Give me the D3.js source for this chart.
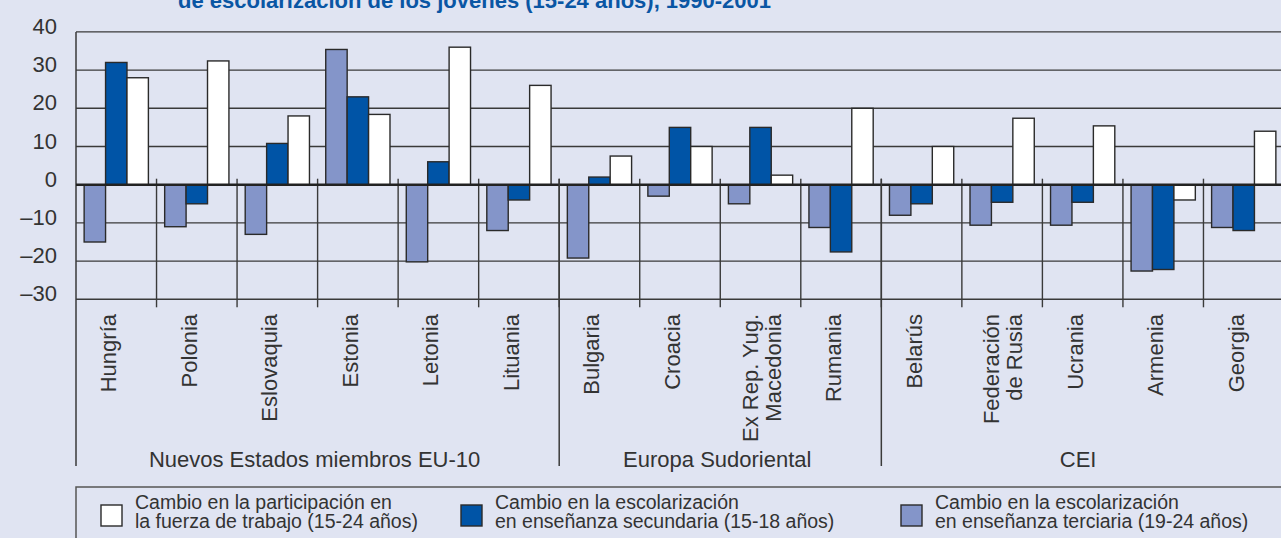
<!DOCTYPE html>
<html>
<head>
<meta charset="utf-8">
<script src="https://cdn.jsdelivr.net/npm/d3@7"></script>
<style>
body { margin: 0; background: #e0e4f2; overflow: hidden; }
svg { display: block; font-family: "Liberation Sans", Arial, sans-serif; }
</style>
</head>
<body>
<div class="chart"></div>
<script>
// data
var countries = ["Hungría", "Polonia", "Eslovaquia", "Estonia", "Letonia", "Lituania",
    "Bulgaria", "Croacia", "Ex Rep. Yug. Macedonia", "Rumania",
    "Belarús", "Federación de Rusia", "Ucrania", "Armenia", "Georgia"];
var countryLabels = [["Hungría"], ["Polonia"], ["Eslovaquia"], ["Estonia"], ["Letonia"], ["Lituania"],
    ["Bulgaria"], ["Croacia"], ["Ex Rep. Yug.", "Macedonia"], ["Rumania"],
    ["Belarús"], ["Federación", "de Rusia"], ["Ucrania"], ["Armenia"], ["Georgia"]];
var tertiary  = [-15, -11, -13, 35.4, -20.2, -12, -19.2, -3, -5, -11.2, -8, -10.6, -10.6, -22.6, -11.2];
var secondary = [32, -5, 10.8, 23, 6, -4, 2, 15, 15, -17.6, -5, -4.6, -4.6, -22.2, -12];
var labour    = [28, 32.4, 18, 18.4, 36, 26, 7.5, 10, 2.5, 20, 10, 17.4, 15.4, -4, 14];
var groupNames = ["Nuevos Estados miembros EU-10", "Europa Sudoriental", "CEI"];
var groupSizes = [6, 4, 5];
var yTicks = [40, 30, 20, 10, 0, -10, -20, -30];
var legendLabels = [
    ["Cambio en la participación en", "la fuerza de trabajo (15-24 años)"],
    ["Cambio en la escolarización", "en enseñanza secundaria (15-18 años)"],
    ["Cambio en la escolarización", "en enseñanza terciaria (19-24 años)"]
];
var title = "de escolarización de los jóvenes (15-24 años), 1990-2001";

var svgWidth = 1281, svgHeight = 538;
var colors = {tertiary: "#8495c9", secondary: "#0054a6", labour: "#ffffff"};
var seriesKeys = ["tertiary", "secondary", "labour"];
var ink = "#333";

var svg = d3.select(".chart").append("svg")
    .attr("width", svgWidth).attr("height", svgHeight);

svg.append("rect").attr("width", svgWidth).attr("height", svgHeight).attr("fill", "#e0e4f2");

//scales
var x0 = d3.scaleBand().domain(countries).range([76, 1284]);
var x1 = d3.scaleBand().domain(seriesKeys).range([0, x0.bandwidth()]).paddingOuter(0.38);
var y = d3.scaleLinear().domain([-30, 40]).range([299.3, 31.9]);

var rows = countries.map(function(c, i) {
    return {country: c, tertiary: tertiary[i], secondary: secondary[i], labour: labour[i]};
});

// title (cut at the top like the source)
svg.append("text").attr("x", 178).attr("y", 7.5)
    .attr("font-size", "22px").attr("font-weight", "bold").attr("fill", "#0a56a4")
    .text(title);

// gridlines
svg.append("g").selectAll("line").data(yTicks).enter().append("line")
    .attr("x1", 76).attr("x2", svgWidth)
    .attr("y1", function(d) { return y(d); }).attr("y2", function(d) { return y(d); })
    .attr("stroke", "#3a3a3a").attr("stroke-width", 1.4);

// y labels
var yAxis = d3.axisLeft(y).tickValues(yTicks).tickSize(0).tickPadding(19)
    .tickFormat(function(d) { return d < 0 ? "\u2013" + Math.abs(d) : d; });
var yg = svg.append("g").attr("transform", "translate(76,0)").call(yAxis);
yg.select(".domain").remove();
yg.selectAll("text").attr("font-size", "22px").attr("font-family", "Liberation Sans, Arial, sans-serif")
    .attr("fill", ink).attr("dy", "0.07em");

// category separators
var bounds = countries.slice(1).map(function(c) { return x0(c); });
var sep = svg.append("g").attr("stroke", "#3a3a3a").attr("stroke-width", 1.4);
sep.selectAll("line.neg").data(bounds).enter().append("line").attr("class", "neg")
    .attr("x1", function(d) { return d; }).attr("x2", function(d) { return d; })
    .attr("y1", y(0) - 6).attr("y2", y(-30) + 8);

// left edge
svg.append("line").attr("x1", 76).attr("x2", 76).attr("y1", y(40)).attr("y2", 466)
    .attr("stroke", "#3a3a3a").attr("stroke-width", 1.5);

// bars
var groups = svg.append("g").selectAll("g").data(rows).enter().append("g")
    .attr("transform", function(d) { return "translate(" + x0(d.country) + ",0)"; });
groups.selectAll("rect").data(function(d) {
        return seriesKeys.map(function(k) { return {key: k, value: d[k]}; });
    }).enter().append("rect")
    .attr("x", function(d) { return x1(d.key); })
    .attr("width", x1.bandwidth())
    .attr("y", function(d) { return y(Math.max(0, d.value)); })
    .attr("height", function(d) { return Math.abs(y(d.value) - y(0)); })
    .attr("fill", function(d) { return colors[d.key]; })
    .attr("stroke", "#2a2a2a").attr("stroke-width", 1.4);

// zero line
svg.append("line").attr("x1", 76).attr("x2", svgWidth).attr("y1", y(0)).attr("y2", y(0))
    .attr("stroke", "#222").attr("stroke-width", 2.5);

// country labels
var labelTop = 314;
svg.append("g").selectAll("text").data(countryLabels).enter().append("text")
    .attr("transform", function(d, i) {
        return "translate(" + (x0(countries[i]) + x0.bandwidth() / 2) + "," + labelTop + ")rotate(-90)";
    })
    .attr("text-anchor", "end").attr("font-size", "22px").attr("fill", ink)
    .each(function(d) {
        var t = d3.select(this);
        d.forEach(function(line, j) {
            t.append("tspan").attr("x", 0)
                .attr("y", d.length > 1 ? (j === 0 ? -3 : 20) : 0)
                .text(line);
        });
    });

// groups
var start = 0;
var groupSpans = groupSizes.map(function(n) {
    var a = x0(countries[start]);
    var last = countries[start + n - 1];
    var b = x0(last) + x0.bandwidth();
    start += n;
    return {a: a, b: b};
});
svg.append("g").selectAll("line").data(groupSpans.slice(1)).enter().append("line")
    .attr("x1", function(d) { return d.a; }).attr("x2", function(d) { return d.a; })
    .attr("y1", y(0) - 6).attr("y2", 466)
    .attr("stroke", "#3a3a3a").attr("stroke-width", 1.5);
svg.append("g").selectAll("text").data(groupNames).enter().append("text")
    .attr("x", function(d, i) { return (groupSpans[i].a + Math.min(groupSpans[i].b, svgWidth)) / 2 - 3; })
    .attr("y", 467).attr("text-anchor", "middle").attr("font-size", "22px").attr("fill", ink)
    .text(function(d) { return d; });

// legend
svg.append("rect").attr("x", 76).attr("y", 487).attr("width", 1300).attr("height", 100)
    .attr("fill", "none").attr("stroke", "#555").attr("stroke-width", 1.5);
var legendKeys = ["labour", "secondary", "tertiary"];
var legendX = [101, 461, 901];
var lg = svg.append("g").selectAll("g").data(legendKeys).enter().append("g")
    .attr("transform", function(d, i) { return "translate(" + legendX[i] + ",505)"; });
lg.append("rect").attr("width", 21).attr("height", 21)
    .attr("fill", function(d) { return colors[d]; })
    .attr("stroke", "#2a2a2a").attr("stroke-width", 1.4);
lg.append("text").attr("font-size", "19.5px").attr("fill", ink)
    .each(function(d, i) {
        var t = d3.select(this);
        legendLabels[i].forEach(function(line, j) {
            t.append("tspan").attr("x", 34).attr("y", 4 + j * 19).text(line);
        });
    });
</script>
</body>
</html>
